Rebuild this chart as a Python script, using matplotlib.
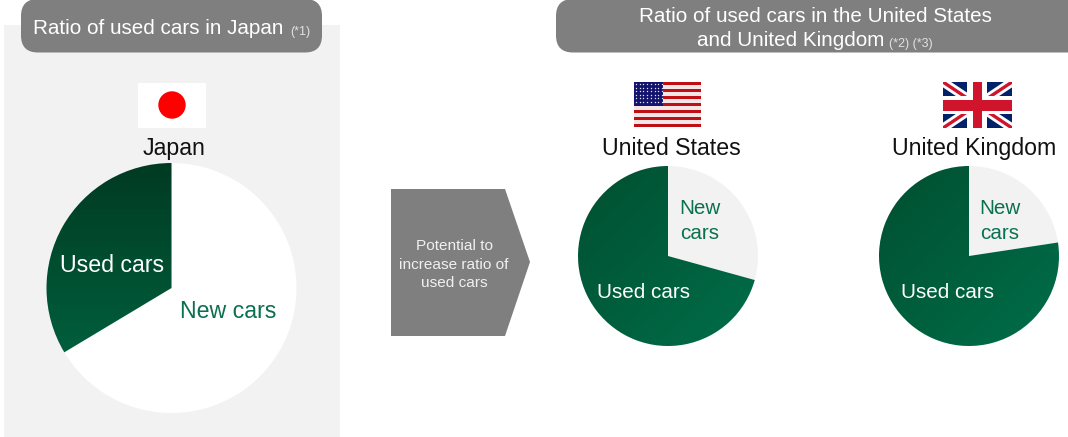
import numpy as np
import matplotlib.pyplot as plt
from matplotlib.colors import LinearSegmentedColormap
from matplotlib.patches import FancyBboxPatch, Polygon, Rectangle, Circle

plt.rcParams['font.family'] = ['Liberation Sans', 'DejaVu Sans']

W, H = 1068, 437
GREY = '#7f7f7f'
PANEL = '#f2f2f2'
GREEN = '#0b7050'

pie_labels = ['Used cars', 'New cars']
japan_shares = [33.6, 66.4]
us_shares = [70.7, 29.3]
uk_shares = [77.4, 22.6]
country_names = ['Japan', 'United States', 'United Kingdom']


def Y(py):
    # positions below are measured from the top edge
    return H - py


fig = plt.figure(figsize=(W / 100, H / 100), dpi=100)
ax = fig.add_axes([0, 0, 1, 1])


def pie(shares, cx, cy, r, other_color, c_start, c_end, diagonal):
    # used cars run counter-clockwise from twelve o'clock, rest is new cars
    wedges, _ = ax.pie(shares, colors=['none', other_color], startangle=90,
                       center=(cx, Y(cy)), radius=r, frame=True,
                       wedgeprops={'linewidth': 0})
    cmap = LinearSegmentedColormap.from_list('g', [c_start, c_end])
    yy, xx = np.mgrid[0:1:200j, 0:1:200j]
    grad = (xx + yy) / 2 if diagonal else yy
    # a couple of spare pixels so the clip edge stays round
    img = ax.imshow(grad, cmap=cmap, origin='upper', aspect='auto',
                    extent=(cx - r - 3, cx + r + 3, Y(cy + r + 3), Y(cy - r - 3)), zorder=1.5)
    img.set_clip_path(wedges[0])


def pill(x0, x1, y0, y1):
    ax.add_patch(FancyBboxPatch((x0 + 17, Y(y1) + 17), x1 - x0 - 34, y1 - y0 - 34,
                                boxstyle='round,pad=17,rounding_size=17',
                                fc=GREY, ec='none', zorder=3, clip_on=True))


# grey backdrop and the two headers
ax.add_patch(Rectangle((4, 0), 336, Y(25), fc=PANEL, ec='none', zorder=0))
pill(21, 322, -1, 52.5)
pill(556, 1090, -1, 52.5)

pie(japan_shares, 171.5, 288, 125, 'white', '#003a22', '#006a45', False)
pie(us_shares, 668, 256, 90, PANEL, '#004f30', '#006e4a', True)
pie(uk_shares, 969, 256, 90, PANEL, '#004f30', '#006e4a', True)

# arrow between the two groups
ax.add_patch(Polygon([(391, Y(189)), (505, Y(189)), (530, Y(262)), (505, Y(336)), (391, Y(336))],
                     fc=GREY, ec='none', zorder=2))

# Japan flag
ax.add_patch(Rectangle((138, Y(128)), 68, 45, fc='white', ec='none', zorder=2))
ax.add_patch(Circle((172, Y(105)), 13.7, fc='#fe0000', ec='none', zorder=3))

# US flag
ax.add_patch(Rectangle((634, Y(127)), 67, 45, fc='#f4e6e6', ec='none', zorder=2))
for i in range(7):
    ax.add_patch(Rectangle((634, Y(82 + (i * 2 + 1) * 45 / 13)), 67, 45 / 13,
                           fc='#bd0f14', ec='none', zorder=3))
ax.add_patch(Rectangle((634, Y(106)), 29, 24, fc='#14146e', ec='none', zorder=4))
star_x, star_y = np.meshgrid(np.arange(636, 662, 3.7), np.arange(84, 105, 3.5))
ax.scatter(star_x.ravel(), Y(star_y.ravel()), s=1.0, color='#e4e4f4', linewidths=0, zorder=5)

# UK flag
uk_box = Rectangle((943, Y(128)), 69, 46, fc='#012169', ec='none', zorder=2)
ax.add_patch(uk_box)
for ys, lw, col in [((82, 128), 6.5, 'white'), ((128, 82), 6.5, 'white'),
                    ((82, 128), 2.4, '#cf142b'), ((128, 82), 2.4, '#cf142b')]:
    line, = ax.plot([943, 1012], [Y(ys[0]), Y(ys[1])], color=col, lw=lw, zorder=3,
                    solid_capstyle='butt')
    line.set_clip_path(uk_box)
ax.add_patch(Rectangle((967, Y(128)), 20, 46, fc='white', ec='none', zorder=4))
ax.add_patch(Rectangle((943, Y(114)), 69, 18, fc='white', ec='none', zorder=4))
ax.add_patch(Rectangle((973, Y(128)), 9, 46, fc='#cf142b', ec='none', zorder=5))
ax.add_patch(Rectangle((943, Y(110.5)), 69, 10.5, fc='#cf142b', ec='none', zorder=5))

# header text
def label(x, y, s, size, color='white', ha='center'):
    ax.text(x, Y(y), s, fontsize=size, color=color, ha=ha, va='baseline', zorder=6)


label(33, 34, 'Ratio of used cars in Japan', 14.9, ha='left')
label(290, 35, '(*1)', 9, color='#e0e0e0', ha='left')
label(815.5, 22, 'Ratio of used cars in the United States', 14.9)
label(697, 46, 'and United Kingdom', 14.9, ha='left')
label(889, 47, '(*2) (*3)', 9, color='#e0e0e0', ha='left')

# country names
label(174, 155, country_names[0], 16.7, color='#111111')
label(671, 155, country_names[1], 16.7, color='#111111')
label(974, 155, country_names[2], 16.7, color='#111111')

# labels on the pies
label(112.5, 272, pie_labels[0], 16.7)
label(228.5, 318, pie_labels[1], 16.7, color=GREEN)
label(643.5, 298, pie_labels[0], 14.9)
label(700, 214, 'New', 14.9, color=GREEN)
label(700, 239, 'cars', 14.9, color=GREEN)
label(947.5, 298, pie_labels[0], 14.9)
label(1000, 214, 'New', 14.9, color=GREEN)
label(1000, 239, 'cars', 14.9, color=GREEN)

# arrow text
label(454, 250, 'Potential to', 11.1, color='#f0f0f0')
label(454, 269, 'increase ratio of', 11.1, color='#f0f0f0')
label(454, 287, 'used cars', 11.1, color='#f0f0f0')

ax.set_xlim(0, W)
ax.set_ylim(0, H)
ax.set_aspect('auto')
ax.axis('off')
fig.savefig('out.png', dpi=100)
